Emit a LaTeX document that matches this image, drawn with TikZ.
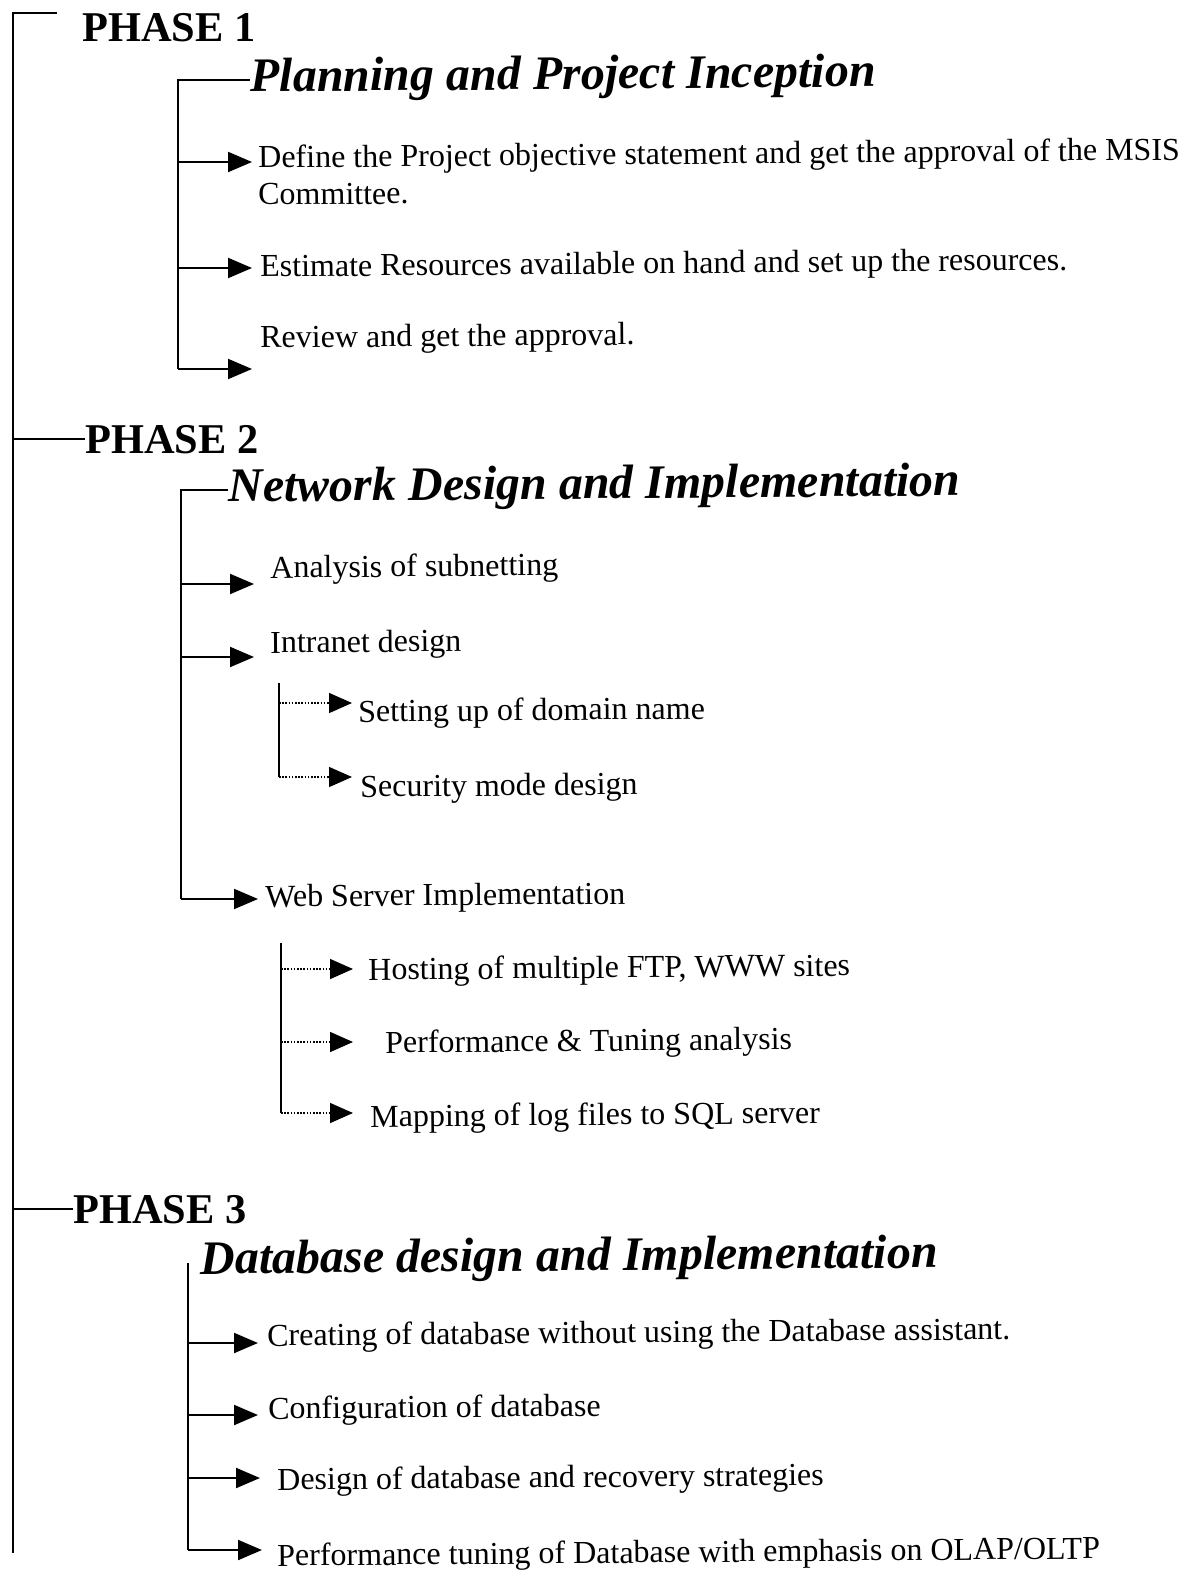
\documentclass[tikz,border=0pt]{standalone}
\usepackage{fontspec}
\setmainfont{Liberation Serif}
\usetikzlibrary{arrows.meta}

\begin{document}
\begin{tikzpicture}[x=0.5pt,y=-0.5pt,
  phase/.style={anchor=base west,inner sep=0pt,font=\fontsize{21.2}{25}\selectfont\bfseries},
  stage/.style={anchor=base west,inner sep=0pt,rotate=0.5,font=\fontsize{24}{28}\selectfont\bfseries\itshape},
  task/.style={anchor=base west,inner sep=0pt,rotate=0.5,font=\fontsize{16}{19}\selectfont},
  tree/.style={line width=1pt},
  arr/.style={line width=1pt,-{Triangle[length=12pt,width=10pt]}},
  dotarr/.style={line width=0.7pt,dash pattern=on 0.8pt off 0.8pt,-{Triangle[length=11.5pt,width=10pt]}}]
\useasboundingbox (0,0) rectangle (1183,1573);

\coordinate (roottop) at (13,13);
\coordinate (rootcap) at (57,13);
\coordinate (rootbot) at (13,1553);

\node[phase] (phase1) at (82,42) {PHASE 1};
\node[stage] (planning) at (250,92) {Planning and Project Inception};
\node[task] (define) at (258,168) {Define the Project objective statement and get the approval of the MSIS};
\node[task] (committee) at (258,205) {Committee.};
\node[task] (estimate) at (260,277) {Estimate Resources available on hand and set up the resources.};
\node[task] (review) at (260,348) {Review and get the approval.};
\coordinate (b1end) at (178,369);
\coordinate (t1a) at (252,162);
\coordinate (t1b) at (252,268);
\coordinate (t1c) at (252,369);

\node[phase] (phase2) at (85,453) {PHASE 2};
\node[stage] (network) at (228,502) {Network Design and Implementation};
\node[task] (subnet) at (270,578) {Analysis of subnetting};
\node[task] (intranet) at (270,653) {Intranet design};
\node[task] (domain) at (358,722) {Setting up of domain name};
\node[task] (security) at (360,797) {Security mode design};
\node[task] (webserver) at (265,907) {Web Server Implementation};
\node[task] (hosting) at (368,980) {Hosting of multiple FTP, WWW sites};
\node[task] (tuning) at (385,1053) {Performance \& Tuning analysis};
\node[task] (logfiles) at (370,1127) {Mapping of log files to SQL server};
\coordinate (b2end) at (181,899);
\coordinate (t2a) at (254,584);
\coordinate (t2b) at (254,657);
\coordinate (t2c) at (258,899);
\coordinate (s1top) at (279,683);
\coordinate (s1a) at (352,703);
\coordinate (s1b) at (352,777);
\coordinate (s2top) at (281,943);
\coordinate (s2a) at (353,969);
\coordinate (s2b) at (353,1042);
\coordinate (s2c) at (353,1113);

\node[phase] (phase3) at (73,1223) {PHASE 3};
\node[stage] (database) at (200,1274) {Database design and Implementation};
\node[task] (creating) at (267,1346) {Creating of database without using the Database assistant.};
\node[task] (config) at (268,1419) {Configuration of database};
\node[task] (recovery) at (277,1490) {Design of database and recovery strategies};
\node[task] (olap) at (277,1566) {Performance tuning of Database with emphasis on OLAP/OLTP};
\coordinate (b3top) at (188,1263);
\coordinate (t3a) at (258,1343);
\coordinate (t3b) at (258,1415);
\coordinate (t3c) at (260,1478);
\coordinate (t3d) at (262,1550);

\draw[tree] (rootcap) -- (roottop) -- (rootbot);
\draw[tree] (phase2.west -| roottop) -- (phase2.west);
\draw[tree] (phase3.west -| roottop) -- (phase3.west);

\draw[tree] (planning.west) -| (b1end);
\draw[arr] (b1end |- t1a) -- (t1a);
\draw[arr] (b1end |- t1b) -- (t1b);
\draw[arr] (b1end) -- (t1c);

\draw[tree] (network.west) -| (b2end);
\draw[arr] (b2end |- t2a) -- (t2a);
\draw[arr] (b2end |- t2b) -- (t2b);
\draw[arr] (b2end) -- (t2c);
\draw[tree] (s1top) -- (s1top |- s1b);
\draw[dotarr] (s1top |- s1a) -- (s1a);
\draw[dotarr] (s1top |- s1b) -- (s1b);
\draw[tree] (s2top) -- (s2top |- s2c);
\draw[dotarr] (s2top |- s2a) -- (s2a);
\draw[dotarr] (s2top |- s2b) -- (s2b);
\draw[dotarr] (s2top |- s2c) -- (s2c);

\draw[tree] (b3top) -- (b3top |- t3d);
\draw[arr] (b3top |- t3a) -- (t3a);
\draw[arr] (b3top |- t3b) -- (t3b);
\draw[arr] (b3top |- t3c) -- (t3c);
\draw[arr] (b3top |- t3d) -- (t3d);
\end{tikzpicture}
\end{document}
